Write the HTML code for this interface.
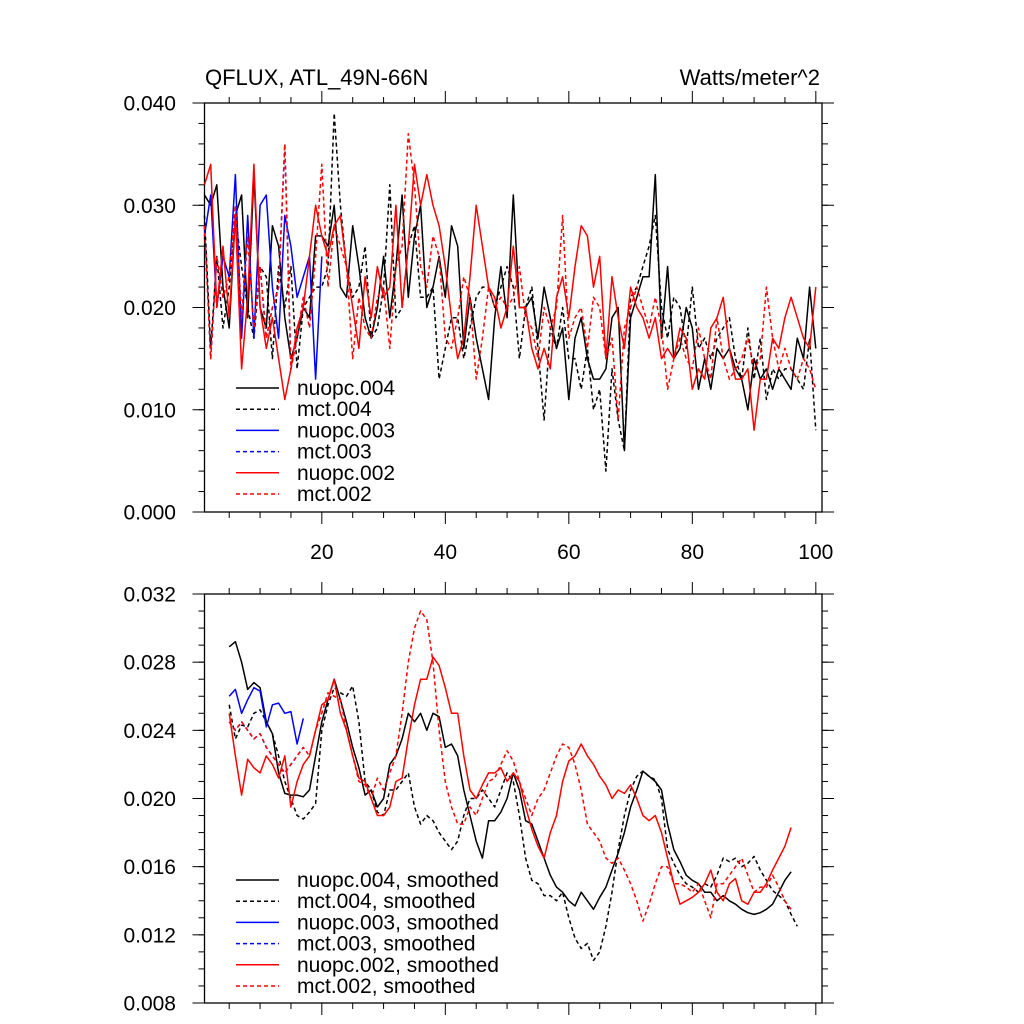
<!DOCTYPE html>
<html><head><meta charset="utf-8"><style>
html,body{margin:0;padding:0;background:#fff;}
svg{display:block;font-family:"Liberation Sans",sans-serif;}
</style></head><body>
<svg id="chart" width="1024" height="1024" viewBox="0 0 1024 1024" xmlns="http://www.w3.org/2000/svg">
<text x="205" y="85" font-size="22">QFLUX, ATL_49N-66N</text>
<text x="820" y="85" font-size="22" text-anchor="end">Watts/meter^2</text>
<g id="top"></g>
<g id="bot"></g>
</svg>
<script>
// ---- data ----
const xTicks = [20, 40, 60, 80, 100];
const topYTicks = [0.000, 0.010, 0.020, 0.030, 0.040];
const topYLabels = ["0.000", "0.010", "0.020", "0.030", "0.040"];
const botYTicks = [0.008, 0.012, 0.016, 0.020, 0.024, 0.028, 0.032];
const botYLabels = ["0.008", "0.012", "0.016", "0.020", "0.024", "0.028", "0.032"];

const nuopc004 = [0.031,0.030,0.032,0.022,0.018,0.029,0.031,0.019,0.033,0.020,0.018,0.028,0.026,0.019,0.015,0.017,0.020,0.019,0.027,0.027,0.026,0.030,0.022,0.021,0.028,0.024,0.019,0.017,0.020,0.025,0.019,0.024,0.031,0.021,0.027,0.030,0.020,0.022,0.025,0.021,0.028,0.026,0.016,0.021,0.017,0.014,0.011,0.019,0.024,0.019,0.031,0.020,0.020,0.021,0.017,0.022,0.019,0.016,0.018,0.011,0.017,0.019,0.015,0.013,0.013,0.014,0.019,0.020,0.006,0.019,0.021,0.023,0.023,0.033,0.017,0.024,0.015,0.016,0.020,0.018,0.012,0.015,0.012,0.016,0.015,0.016,0.014,0.013,0.010,0.015,0.013,0.014,0.012,0.014,0.013,0.012,0.017,0.015,0.022,0.016];
const mct004 = [0.029,0.016,0.025,0.018,0.022,0.029,0.024,0.020,0.017,0.024,0.023,0.015,0.024,0.020,0.024,0.014,0.020,0.021,0.022,0.022,0.024,0.039,0.030,0.024,0.021,0.022,0.026,0.017,0.018,0.022,0.032,0.019,0.020,0.026,0.028,0.021,0.021,0.022,0.013,0.016,0.019,0.019,0.015,0.018,0.021,0.022,0.022,0.020,0.022,0.024,0.022,0.015,0.020,0.022,0.016,0.009,0.018,0.016,0.020,0.015,0.015,0.012,0.016,0.010,0.012,0.004,0.014,0.009,0.006,0.021,0.022,0.024,0.026,0.029,0.020,0.017,0.021,0.020,0.016,0.022,0.016,0.017,0.015,0.017,0.018,0.019,0.015,0.013,0.018,0.013,0.017,0.011,0.014,0.013,0.014,0.014,0.013,0.012,0.017,0.008];
const nuopc003 = [0.027,0.031,0.020,0.025,0.023,0.033,0.017,0.029,0.017,0.030,0.031,0.022,0.017,0.029,0.026,0.021,0.023,0.025,0.013,0.025];
const mct003 = [0.028,0.015,0.025,0.021,0.023,0.030,0.019,0.027,0.018,0.024,0.017,0.020,0.022,0.036,0.014,0.017,0.021];
const nuopc002 = [0.032,0.034,0.020,0.026,0.019,0.029,0.014,0.021,0.034,0.020,0.016,0.019,0.015,0.011,0.014,0.018,0.020,0.025,0.030,0.027,0.025,0.028,0.029,0.024,0.020,0.016,0.023,0.019,0.024,0.021,0.022,0.030,0.020,0.026,0.034,0.030,0.033,0.030,0.028,0.024,0.019,0.015,0.017,0.023,0.030,0.026,0.022,0.021,0.018,0.020,0.026,0.020,0.020,0.016,0.014,0.016,0.014,0.021,0.023,0.019,0.024,0.028,0.027,0.022,0.025,0.015,0.023,0.019,0.016,0.022,0.020,0.019,0.017,0.019,0.015,0.016,0.015,0.018,0.017,0.012,0.014,0.013,0.018,0.019,0.021,0.016,0.013,0.013,0.014,0.008,0.013,0.013,0.017,0.016,0.019,0.021,0.019,0.017,0.016,0.022];
const mct002 = [0.028,0.015,0.025,0.021,0.023,0.030,0.019,0.027,0.018,0.024,0.017,0.020,0.022,0.036,0.014,0.017,0.021,0.018,0.025,0.034,0.022,0.028,0.026,0.024,0.015,0.021,0.018,0.017,0.021,0.022,0.016,0.024,0.026,0.037,0.032,0.024,0.022,0.027,0.025,0.017,0.016,0.019,0.023,0.021,0.013,0.017,0.022,0.020,0.021,0.020,0.021,0.024,0.019,0.018,0.015,0.020,0.018,0.020,0.029,0.017,0.019,0.020,0.016,0.021,0.020,0.015,0.017,0.009,0.018,0.020,0.022,0.020,0.018,0.021,0.018,0.012,0.015,0.017,0.015,0.014,0.018,0.015,0.013,0.019,0.015,0.013,0.014,0.015,0.017,0.014,0.015,0.022,0.017,0.014,0.016,0.014,0.013,0.015,0.014,0.012];

const smStart = 5;
const sNuopc004 = [0.0289,0.0292,0.0280,0.0264,0.0268,0.0265,0.0245,0.0238,0.0215,0.0203,0.0202,0.0202,0.0201,0.0205,0.0225,0.0245,0.0258,0.0270,0.0258,0.0245,0.0230,0.0218,0.0202,0.0205,0.0195,0.0200,0.0220,0.0225,0.0235,0.0250,0.0245,0.0250,0.0240,0.0250,0.0248,0.0230,0.0232,0.0225,0.0205,0.0190,0.0175,0.0165,0.0187,0.0187,0.0192,0.0200,0.0215,0.0205,0.0187,0.0185,0.0175,0.0165,0.0155,0.0148,0.0145,0.0140,0.0137,0.0145,0.0140,0.0135,0.0142,0.0148,0.0158,0.0168,0.0180,0.0195,0.0205,0.0216,0.0213,0.0210,0.0205,0.0185,0.0170,0.0163,0.0155,0.0152,0.0150,0.0145,0.0145,0.0140,0.0143,0.0140,0.0138,0.0135,0.0133,0.0132,0.0133,0.0135,0.0138,0.0145,0.0152,0.0157];
const sMct004 = [0.0255,0.0235,0.0243,0.0242,0.0250,0.0252,0.0245,0.0238,0.0225,0.0210,0.0200,0.0190,0.0188,0.0192,0.0197,0.0240,0.0255,0.0265,0.0262,0.0260,0.0266,0.0245,0.0210,0.0205,0.0192,0.0190,0.0205,0.0205,0.0210,0.0215,0.0195,0.0185,0.0190,0.0187,0.0180,0.0175,0.0170,0.0175,0.0190,0.0200,0.0200,0.0205,0.0200,0.0195,0.0205,0.0215,0.0210,0.0190,0.0165,0.0152,0.0150,0.0143,0.0143,0.0140,0.0145,0.0130,0.0118,0.0112,0.0115,0.0105,0.0110,0.0125,0.0145,0.0170,0.0190,0.0205,0.0213,0.0216,0.0213,0.0211,0.0200,0.0170,0.0162,0.0155,0.0150,0.0148,0.0145,0.0150,0.0148,0.0155,0.0165,0.0163,0.0165,0.0160,0.0162,0.0166,0.0158,0.0152,0.0146,0.0143,0.0140,0.0132,0.0125];
const sNuopc003 = [0.0260,0.0264,0.0250,0.0258,0.0265,0.0263,0.0242,0.0255,0.0256,0.0250,0.0251,0.0232,0.0247];
const sMct003 = [0.0245,0.0240,0.0245,0.0240,0.0235,0.0238,0.0230,0.0225,0.0220,0.0215,0.0220,0.0225,0.0230];
const sNuopc002 = [0.0250,0.0225,0.0202,0.0223,0.0218,0.0215,0.0225,0.0220,0.0212,0.0225,0.0195,0.0210,0.0220,0.0225,0.0240,0.0255,0.0258,0.0270,0.0250,0.0240,0.0225,0.0212,0.0210,0.0200,0.0190,0.0190,0.0195,0.0210,0.0212,0.0235,0.0255,0.0270,0.0270,0.0283,0.0278,0.0265,0.0250,0.0250,0.0225,0.0205,0.0200,0.0208,0.0215,0.0215,0.0218,0.0210,0.0215,0.0210,0.0195,0.0182,0.0172,0.0165,0.0180,0.0190,0.0210,0.0222,0.0225,0.0232,0.0225,0.0220,0.0213,0.0208,0.0200,0.0205,0.0203,0.0208,0.0200,0.0190,0.0187,0.0190,0.0180,0.0165,0.0150,0.0138,0.0140,0.0142,0.0145,0.0150,0.0158,0.0145,0.0140,0.0150,0.0153,0.0140,0.0138,0.0145,0.0145,0.0150,0.0158,0.0165,0.0172,0.0183];
const sMct002 = [0.0245,0.0240,0.0245,0.0240,0.0235,0.0238,0.0230,0.0225,0.0220,0.0215,0.0220,0.0225,0.0230,0.0225,0.0240,0.0250,0.0262,0.0260,0.0258,0.0240,0.0225,0.0210,0.0208,0.0200,0.0212,0.0205,0.0215,0.0225,0.0250,0.0280,0.0300,0.0310,0.0305,0.0280,0.0240,0.0210,0.0195,0.0185,0.0185,0.0195,0.0190,0.0200,0.0210,0.0212,0.0220,0.0228,0.0222,0.0210,0.0200,0.0190,0.0200,0.0205,0.0215,0.0225,0.0232,0.0230,0.0220,0.0205,0.0185,0.0180,0.0175,0.0165,0.0162,0.0165,0.0158,0.0150,0.0140,0.0128,0.0138,0.0150,0.0160,0.0160,0.0150,0.0150,0.0148,0.0145,0.0150,0.0140,0.0130,0.0150,0.0150,0.0155,0.0160,0.0165,0.0155,0.0145,0.0148,0.0148,0.0155,0.0148,0.0140,0.0135];

const topLegend = ["nuopc.004","mct.004","nuopc.003","mct.003","nuopc.002","mct.002"];
const botLegend = ["nuopc.004, smoothed","mct.004, smoothed","nuopc.003, smoothed","mct.003, smoothed","nuopc.002, smoothed","mct.002, smoothed"];

// ---- drawing ----
const NS = "http://www.w3.org/2000/svg";
const L = 204.5, R = 822, XMIN = 1, XMAX = 101;
function xs(v){ return L + (v - XMIN) / (XMAX - XMIN) * (R - L); }
function mk(tag, parent, attrs){ const e = document.createElementNS(NS, tag); for (const k in attrs) e.setAttribute(k, attrs[k]); parent.appendChild(e); return e; }

function panel(g, top, bot, ymin, ymax, yt, ylab, yminor, xlabels, series, legendNames, legTop){
  const ys = v => bot - (v - ymin) / (ymax - ymin) * (bot - top);
  const frame = mk('rect', g, {x:L, y:top, width:R-L, height:bot-top, fill:'none', stroke:'#000', 'stroke-width':1.3});
  
  
  for (let v = 5; v <= 100; v += 5){
    const major = v % 20 === 0, len = major ? 12 : 6, x = xs(v);
    const t1 = mk('line', g, {x1:x, x2:x, y1:bot, y2:bot+len, stroke:'#000', 'stroke-width':1});
    
    
    const t2 = mk('line', g, {x1:x, x2:x, y1:top, y2:top-len, stroke:'#000', 'stroke-width':1});
    
    
  }
  if (xlabels){
    xTicks.forEach(v => {
      const t = mk('text', g, {x:xs(v), y:bot+47, 'font-size':21, 'text-anchor':'middle'});
      t.textContent = v;
      
      
    });
  }
  for (let v = ymin; v <= ymax + 1e-9; v += yminor){
    const y = ys(v);
    const a = mk('line', g, {x1:L, x2:L-6, y1:y, y2:y, stroke:'#000', 'stroke-width':1});
    
    
    const b = mk('line', g, {x1:R, x2:R+6, y1:y, y2:y, stroke:'#000', 'stroke-width':1});
    
    
  }
  yt.forEach((v, i) => {
    const y = ys(v);
    const a = mk('line', g, {x1:L, x2:L-12, y1:y, y2:y, stroke:'#000', 'stroke-width':1});
    
    
    const b = mk('line', g, {x1:R, x2:R+12, y1:y, y2:y, stroke:'#000', 'stroke-width':1});
    
    
    const t = mk('text', g, {x:176, y:y+7.5, 'font-size':21, 'text-anchor':'end'});
    t.textContent = ylab[i];
    
    
  });
  series.forEach(s => {
    const pts = s.data.map((v, i) => xs(s.start + i).toFixed(1) + ',' + ys(v).toFixed(1)).join(' ');
    const p = mk('polyline', g, {points:pts, fill:'none', stroke:s.color, 'stroke-width':1.5, 'stroke-linejoin':'round'});
    if (s.dash) p.setAttribute('stroke-dasharray', '4,3');
    
    
  });
  legendNames.forEach((n, i) => {
    const s = series[i];
    const y = legTop + i * 21.2;
    const ln = mk('line', g, {x1:236, x2:279, y1:y, y2:y, stroke:s.color, 'stroke-width':1.5});
    if (s.dash) ln.setAttribute('stroke-dasharray', '4,3');
    
    
    const t = mk('text', g, {x:297, y:y+7, 'font-size':21});
    t.textContent = n;
    
    
  });
}

panel(document.getElementById('top'), 103, 512, 0, 0.040, topYTicks, topYLabels, 0.002, true, [
  {name:'line-nuopc-004', data:nuopc004, start:1, color:'#000', dash:false},
  {name:'line-mct-004', data:mct004, start:1, color:'#000', dash:true},
  {name:'line-nuopc-003', data:nuopc003, start:1, color:'#0000ff', dash:false},
  {name:'line-mct-003', data:mct003, start:1, color:'#0000ff', dash:true},
  {name:'line-nuopc-002', data:nuopc002, start:1, color:'#ff0000', dash:false},
  {name:'line-mct-002', data:mct002, start:1, color:'#ff0000', dash:true}
], topLegend, 388);

panel(document.getElementById('bot'), 594, 1003, 0.008, 0.032, botYTicks, botYLabels, 0.001, false, [
  {name:'line-nuopc-004-smoothed', data:sNuopc004, start:smStart, color:'#000', dash:false},
  {name:'line-mct-004-smoothed', data:sMct004, start:smStart, color:'#000', dash:true},
  {name:'line-nuopc-003-smoothed', data:sNuopc003, start:smStart, color:'#0000ff', dash:false},
  {name:'line-mct-003-smoothed', data:sMct003, start:smStart, color:'#0000ff', dash:true},
  {name:'line-nuopc-002-smoothed', data:sNuopc002, start:smStart, color:'#ff0000', dash:false},
  {name:'line-mct-002-smoothed', data:sMct002, start:smStart, color:'#ff0000', dash:true}
], botLegend, 880);
</script>
</body></html>
